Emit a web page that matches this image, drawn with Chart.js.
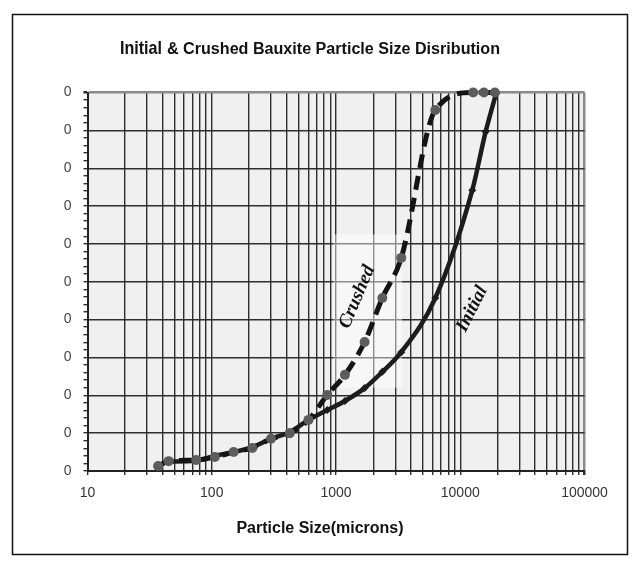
<!DOCTYPE html>
<html><head><meta charset="utf-8">
<script src="https://cdn.jsdelivr.net/npm/chart.js@4/dist/chart.umd.min.js"></script>
<style>html,body{margin:0;padding:0;background:#fff}#c{display:block}</style>
</head><body>
<canvas id="c" width="638" height="565"></canvas>
<script>
// ---- data ----
const initialSize   = [45, 75, 106, 150, 212, 300, 425, 600, 850, 1180, 1700, 2360, 3350, 6300, 12500, 16000, 19500];
const initialPassing= [2.5, 2.7, 4.0, 5.0, 6.3, 8.5, 10.3, 13.5, 16.1, 18.5, 21.9, 26.2, 31.4, 45.7, 74.2, 89.6, 99.9];
const crushedSize   = [37, 45, 75, 106, 150, 212, 300, 425, 600, 850, 1180, 1700, 2360, 3350, 6300, 12700, 15500, 19000];
const crushedPassing= [1.3, 2.6, 2.9, 3.7, 5.0, 6.1, 8.5, 10.0, 13.5, 20.1, 25.4, 34.1, 45.7, 56.3, 95.4, 100, 100, 100];
const xDecades = [10, 100, 1000, 10000];
const xMultipliers = [1,2,3,4,5,6,7,8,9];
const xMax = 100000;
const yTickLabels = {0:'0',10:'0',20:'0',30:'0',40:'0',50:'0',60:'0',70:'0',80:'0',90:'0',100:'0'};
const titleMain = 'Initial';
const titleRest = '& Crushed Bauxite Particle Size Disribution';
const xTitle = 'Particle Size(microns)';
const labelCrushed = {text:'Crushed', x:1480, y:46, angle:-67};
const labelInitial = {text:'Initial', x:12450, y:42.8, angle:-63};

const xTickValues = [];
xDecades.forEach(d => xMultipliers.forEach(m => xTickValues.push(d*m)));
xTickValues.push(xMax);

const pts = (xs, ys) => xs.map((x,i) => ({x, y: ys[i]}));

const SANS = '"Liberation Sans", Arial, sans-serif';

function fitText(ctx, text, x, y, width) {
  const w = ctx.measureText(text).width;
  ctx.save();
  ctx.translate(x, y);
  ctx.scale(width / w, 1);
  ctx.fillText(text, 0, 0);
  ctx.restore();
}

const decor = {
  id: 'decor',
  beforeDraw(chart) {
    const {ctx, chartArea: a} = chart;
    ctx.save();
    ctx.fillStyle = '#fff';
    ctx.fillRect(0,0,chart.width,chart.height);
    ctx.fillStyle = '#f0f0f0';
    ctx.fillRect(a.left, a.top, a.right-a.left, a.bottom-a.top);
    ctx.restore();
  },
  beforeDatasetsDraw(chart) {
    const {ctx, scales:{x,y}} = chart;
    ctx.save();
    ctx.fillStyle = 'rgba(255,255,255,0.45)';
    const l = x.getPixelForValue(950), r = x.getPixelForValue(3400);
    const t = y.getPixelForValue(62.5), b = y.getPixelForValue(22);
    ctx.fillRect(l, t, r-l, b-t);
    ctx.restore();
  },
  afterDraw(chart) {
    const {ctx, scales:{x,y}} = chart;
    ctx.save();
    // title
    ctx.fillStyle = '#111';
    ctx.textBaseline = 'alphabetic';
    ctx.font = 'bold 19px ' + SANS;
    fitText(ctx, titleMain, 120, 54, 42);
    ctx.font = 'bold 16px ' + SANS;
    fitText(ctx, titleRest, 167, 54, 333);
    // x title
    ctx.font = 'bold 16px ' + SANS;
    ctx.textAlign = 'center';
    ctx.fillText(xTitle, 320, 533);
    // rotated labels
    ctx.font = 'italic bold 19px "Liberation Serif", "Times New Roman", serif';
    ctx.textBaseline = 'middle';
    [labelCrushed, labelInitial].forEach(L => {
      ctx.save();
      ctx.translate(x.getPixelForValue(L.x), y.getPixelForValue(L.y));
      ctx.rotate(L.angle*Math.PI/180);
      ctx.fillText(L.text, 0, 0);
      ctx.restore();
    });
    // outer frame
    ctx.strokeStyle = '#111';
    ctx.lineWidth = 1.5;
    ctx.strokeRect(12.5, 14.5, 615, 540);
    ctx.restore();
  }
};

new Chart(document.getElementById('c'), {
  type: 'line',
  data: {
    datasets: [
      {
        label: 'Crushed',
        data: pts(crushedSize, crushedPassing),
        borderColor: '#141414',
        borderWidth: 5,
        borderDash: [14, 8],
        pointStyle: 'circle',
        pointRadius: 5,
        pointBackgroundColor: '#5c5c5c',
        pointBorderWidth: 0,
        cubicInterpolationMode: 'monotone',
        clip: 10,
        order: 0
      },
      {
        label: 'Initial',
        data: pts(initialSize, initialPassing),
        borderColor: '#1c1c1c',
        borderWidth: 4.5,
        pointStyle: 'rectRot',
        pointRadius: 4,
        pointBackgroundColor: '#1c1c1c',
        pointBorderWidth: 0,
        cubicInterpolationMode: 'monotone',
        clip: 10,
        order: 1
      }
    ]
  },
  options: {
    responsive: false,
    animation: false,
    devicePixelRatio: 1,
    layout: { padding: { left: 0, right: 53.5, top: 92.5, bottom: 0 } },
    plugins: { legend: {display:false}, tooltip: {enabled:false}, title:{display:false} },
    scales: {
      x: {
        type: 'logarithmic',
        min: 10, max: xMax,
        afterBuildTicks: s => { s.ticks = xTickValues.map(v => ({value: v})); },
        afterFit: s => { s.height = 94; },
        ticks: {
          autoSkip: false, maxRotation: 0, padding: 10,
          color: '#333', font: {family: SANS, size: 14},
          callback: v => (xDecades.includes(v) || v === xMax) ? String(v) : ''
        },
        grid: {
          color: c => (c.tick && c.tick.value === xMax) ? '#8a8a8a' : '#2e2e2e',
          lineWidth: c => (c.tick && c.tick.value === xMax) ? 2.5 : 1.4,
          tickLength: 4,
          tickColor: '#2e2e2e'
        },
        border: { color: '#222', width: 2 }
      },
      y: {
        type: 'linear',
        min: 0, max: 100,
        afterFit: s => { s.width = 87.5; },
        ticks: {
          stepSize: 2, autoSkip: false, padding: 12,
          color: '#444', font: {family: SANS, size: 14},
          callback: v => (v in yTickLabels) ? yTickLabels[v] : ''
        },
        grid: {
          color: c => {
            const v = c.tick ? c.tick.value : 0;
            if (v === 100) return '#8a8a8a';
            return (v % 10 === 0) ? '#2e2e2e' : 'rgba(0,0,0,0)';
          },
          lineWidth: c => (c.tick && c.tick.value === 100) ? 2.5 : 1.4,
          tickLength: 4,
          tickColor: '#2e2e2e'
        },
        border: { color: '#222', width: 2 }
      }
    }
  },
  plugins: [decor]
});
</script>
</body></html>
